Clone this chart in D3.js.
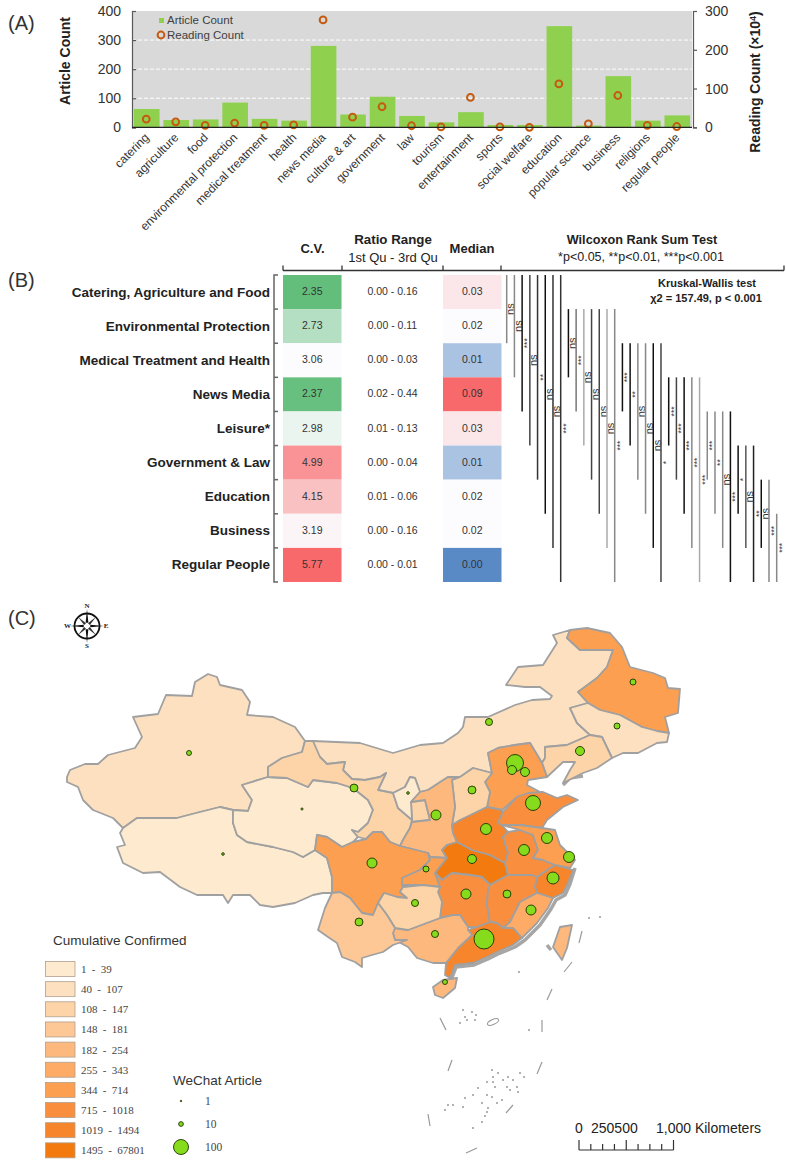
<!DOCTYPE html>
<html><head><meta charset="utf-8">
<script src="https://cdn.jsdelivr.net/npm/d3@7/dist/d3.min.js"></script>
<style>html,body{margin:0;padding:0;background:#fff}svg{display:block}text{font-family:"Liberation Sans",Arial,sans-serif}</style>
</head><body><div id="c"></div>
<script>
// ---------- Panel A data ----------
const categories=["catering","agriculture","food","environmental protection","medical treatment","health","news media","culture & art","government","law","tourism","entertainment","sports","social welfare","education","popular science","business","religions","regular people"];
const articleCount=[63,25,27,85,29,23,280,44,105,39,17,52,8,8,348,6,176,23,41];
const readingCount=[21,14,5,11,5,6,277,26,53,4,1,77,1,0,112,9,82,5,2];
const leftTicks=[0,100,200,300,400];
const rightTicks=[0,100,200,300];
// ---------- Panel B data ----------
const groups=["Catering, Agriculture and Food","Environmental Protection","Medical Treatment and Health","News Media","Leisure*","Government & Law","Education","Business","Regular People"];
const cv=[2.35,2.73,3.06,2.37,2.98,4.99,4.15,3.19,5.77];
const ratioRange=["0.00 - 0.16","0.00 - 0.11","0.00 - 0.03","0.02 - 0.44","0.01 - 0.13","0.00 - 0.04","0.01 - 0.06","0.00 - 0.16","0.00 - 0.01"];
const median=[0.03,0.02,0.01,0.09,0.03,0.01,0.02,0.02,0.00];
const wilcoxon=[
 ["ns","ns","***","ns","**","ns","ns","***"],
 ["ns","***","ns","ns","ns","ns","***"],
 ["***","**","ns","ns","ns","*"],
 ["***","***","***","***","***"],
 ["***","**","ns","***"],
 ["*","ns","**"],
 ["ns","***"],
 ["***"]];
const pairShade=["#888","#888","#111","#444","#333","#111","#333","#333","#111","#777","#aaa","#444","#444","#aaa","#888","#111","#111","#888","#888","#111","#444","#111","#444","#111","#888","#aaa","#888","#888","#888","#111","#111","#555","#222","#111","#888","#888"];
// ---------- Panel C data (map units) ----------
const legendBreaks=["1 - 39","40 - 107","108 - 147","148 - 181","182 - 254","255 - 343","344 - 714","715 - 1018","1019 - 1494","1495 - 67801"];
const legendColors=["#fdeacf","#fde0bf","#fdd4a8","#fdc796","#fdb97d","#fdab67","#fc9f50","#f98f3e","#f6852b","#f27a0e"];
const xinjiang=[[67,777],[70,770],[85,764],[98,764],[108,755],[135,748],[142,737],[133,717],[158,714],[166,695],[192,696],[195,682],[208,674],[217,677],[220,685],[242,690],[250,702],[247,715],[273,717],[295,727],[305,741],[302,752],[282,758],[268,767],[268,777],[242,785],[252,800],[248,811],[233,810],[220,807],[200,812],[177,818],[137,818],[123,828],[113,818],[93,810],[83,800],[78,787],[67,782]];
const tibet=[[123,828],[137,818],[177,818],[200,812],[220,807],[233,810],[233,823],[237,835],[247,842],[273,847],[293,852],[303,857],[315,850],[327,858],[332,877],[332,893],[323,893],[313,895],[295,903],[273,907],[260,905],[250,895],[233,895],[228,903],[223,895],[197,895],[180,887],[160,872],[143,873],[123,863],[117,847],[125,845],[120,833]];
const qinghai=[[242,785],[268,777],[287,778],[308,787],[313,780],[337,783],[353,788],[368,800],[373,810],[368,823],[358,832],[352,830],[358,837],[353,842],[342,847],[327,837],[317,835],[315,850],[303,857],[293,852],[273,847],[247,842],[237,835],[233,823],[233,810],[248,811],[252,800]];
const gansu=[[305,741],[313,741],[320,757],[327,764],[345,762],[343,770],[352,779],[365,780],[380,777],[386,773],[378,790],[393,793],[398,808],[412,820],[410,828],[403,840],[400,846],[390,842],[382,832],[373,832],[366,839],[358,837],[352,830],[358,832],[368,823],[373,810],[368,800],[353,788],[337,783],[313,780],[308,787],[287,778],[268,777],[268,767],[282,758],[302,752]];
const gansuEast=[[411,802],[425,800],[430,820],[412,822]];
const innerMongolia=[[305,741],[313,741],[360,743],[393,753],[420,745],[443,743],[458,733],[463,727],[465,717],[475,717],[488,717],[515,705],[532,700],[550,699],[552,696],[540,687],[525,687],[506,685],[518,667],[543,665],[557,643],[553,635],[570,630],[567,638],[580,650],[613,650],[607,667],[597,678],[578,692],[588,703],[570,708],[577,723],[590,735],[567,745],[545,747],[545,758],[542,763],[530,743],[515,745],[498,748],[488,753],[492,773],[473,768],[460,777],[448,777],[428,790],[420,792],[415,778],[410,777],[405,787],[393,793],[378,790],[386,773],[380,777],[365,780],[352,779],[343,770],[345,762],[327,764],[320,757]];
const heilongjiang=[[567,638],[570,630],[587,628],[610,633],[622,647],[630,667],[653,673],[665,678],[668,688],[680,689],[678,713],[665,717],[669,733],[657,731],[642,727],[620,715],[600,710],[588,703],[578,692],[597,678],[607,667],[613,650],[580,650]];
const jilin=[[570,708],[588,703],[600,710],[620,715],[642,727],[657,731],[669,733],[667,742],[657,743],[638,753],[623,753],[612,758],[602,737],[590,735],[577,723]];
const liaoning=[[545,747],[567,745],[590,735],[602,737],[612,758],[597,768],[583,773],[563,783],[570,770],[575,762],[563,762],[547,777],[542,763],[545,758]];
const hebei=[[488,753],[498,748],[515,745],[530,743],[542,763],[547,777],[528,780],[527,785],[540,792],[517,797],[502,810],[487,807],[490,792],[485,782],[492,773]];
const shanxi=[[473,768],[492,773],[485,782],[490,792],[487,807],[452,825],[455,807],[452,780],[460,777]];
const ningxia=[[393,793],[405,787],[410,777],[415,778],[420,792],[411,802],[412,820],[398,808]];
const shaanxi=[[420,792],[428,790],[448,777],[457,778],[452,780],[455,807],[452,825],[453,833],[457,842],[447,845],[442,850],[447,858],[430,857],[428,853],[400,846],[403,840],[410,828],[412,822],[430,820],[425,800],[411,802]];
const sichuan=[[317,835],[327,837],[342,847],[353,842],[366,839],[373,832],[382,832],[390,842],[400,846],[428,853],[430,860],[420,870],[402,878],[402,885],[403,887],[400,892],[407,898],[397,897],[384,893],[378,903],[373,915],[362,913],[350,898],[340,892],[332,893],[332,877],[327,858],[315,850]];
const chongqing=[[428,853],[430,857],[447,858],[435,873],[440,887],[423,885],[402,885],[402,878],[420,870],[430,860]];
const hubei=[[447,845],[457,842],[472,850],[490,855],[505,863],[508,875],[490,885],[482,877],[470,875],[452,873],[442,880],[435,873],[447,858],[442,850]];
const hunan=[[442,880],[452,873],[470,875],[482,877],[490,885],[488,890],[487,905],[490,922],[477,927],[468,927],[460,915],[453,915],[440,918],[442,902],[438,892],[440,887],[435,873]];
const jiangxi=[[488,890],[490,885],[508,875],[532,875],[537,877],[535,887],[537,893],[520,902],[510,922],[503,928],[497,923],[490,922],[487,905]];
const zhejiang=[[535,887],[537,877],[547,870],[555,865],[573,870],[568,883],[563,893],[553,898],[537,893]];
const fujian=[[537,893],[553,898],[548,908],[537,923],[522,938],[513,928],[503,928],[510,922],[520,902]];
const guangdong=[[468,930],[477,927],[490,922],[497,923],[503,928],[513,928],[522,938],[513,945],[497,952],[487,957],[473,963],[455,965],[450,978],[445,975],[446,963],[458,948],[472,935]];
const guangxi=[[460,915],[468,927],[468,930],[472,935],[458,948],[446,963],[433,963],[417,958],[408,947],[395,940],[393,933],[395,928],[408,930],[440,918],[453,915]];
const guizhou=[[403,887],[423,885],[440,887],[438,892],[442,902],[440,918],[408,930],[395,928],[387,915],[378,903],[384,893],[397,897],[407,898],[400,892]];
const yunnan=[[332,893],[325,908],[318,930],[328,937],[337,943],[342,957],[355,962],[362,967],[362,958],[372,955],[383,952],[393,945],[407,940],[395,940],[393,933],[395,928],[387,915],[378,903],[373,915],[362,913],[350,898],[340,892]];
const henan=[[452,825],[460,820],[487,807],[502,810],[503,812],[498,823],[502,825],[508,832],[503,837],[508,853],[505,863],[490,855],[472,850],[457,842],[453,833]];
const shandong=[[503,812],[517,797],[528,793],[543,792],[557,798],[567,795],[578,800],[563,807],[547,820],[542,828],[520,825],[502,825],[498,823]];
const anhui=[[508,832],[520,830],[533,835],[538,850],[533,858],[543,860],[555,865],[547,870],[537,877],[532,875],[508,875],[505,863],[508,853],[503,837]];
const jiangsu=[[520,825],[542,828],[555,830],[560,845],[568,853],[575,860],[570,868],[555,865],[543,860],[533,858],[538,850],[533,835],[520,830],[502,825]];
const taiwan=[[560,927],[572,925],[567,948],[562,960],[553,947]];
const hainan=[[433,987],[443,980],[457,978],[455,988],[443,998],[435,995]];
const provinceShapes=[xinjiang,tibet,qinghai,innerMongolia,gansu,gansuEast,heilongjiang,jilin,liaoning,hebei,shanxi,ningxia,shaanxi,sichuan,chongqing,hubei,hunan,jiangxi,zhejiang,fujian,guangdong,guangxi,guizhou,yunnan,henan,shandong,anhui,jiangsu,taiwan,hainan];
const provinceClass=[1,0,0,1,2,2,6,1,2,6,2,0,4,6,6,9,7,7,8,5,8,4,2,3,8,7,7,6,4,4];
const coastlines=[[[575,868],[570,884],[565,895],[556,900],[551,909],[540,925],[525,940],[515,947],[498,954],[488,959],[474,965],[456,967],[451,980]],[[563,785],[570,778],[583,776]],[[547,945],[551,950]]];
const seaDashes=[[[579,943],[582,931]],[[564,972],[572,962]],[[547,1000],[552,989]],[[542,1032],[542,1020]],[[537,1074],[542,1062]],[[506,1113],[513,1105]],[[430,1126],[428,1114]],[[440,1018],[446,1030]],[[448,1071],[452,1060]],[[466,1153],[477,1148]]];
const islands=[[463,1010],[472,1012],[476,1015],[465,1017],[467,1020],[475,1020],[460,1023],[492,1070],[498,1073],[493,1077],[493,1082],[487,1082],[495,1087],[508,1077],[513,1080],[520,1073],[524,1077],[503,1080],[507,1087],[517,1087],[510,1090],[518,1092],[478,1088],[473,1095],[465,1098],[487,1095],[492,1097],[482,1103],[497,1103],[502,1100],[488,1108],[487,1112],[485,1116],[482,1122],[473,1128],[463,1107],[453,1105],[448,1105],[445,1110],[519,972],[529,1030],[589,918],[600,917]];
const cityLocations=[[633,682],[617,726],[580,751],[489,722],[515,763],[525,772],[512,770],[472,790],[533,803],[436,815],[486,829],[547,838],[524,850],[569,857],[472,859],[426,869],[553,878],[466,894],[507,894],[531,910],[484,939],[435,934],[415,903],[359,922],[445,982],[372,863],[354,788],[189,753],[302,809],[223,854],[408,793]];
const cityArticles=[16,16,36,22,128,36,36,28,100,44,54,54,54,54,36,16,64,44,28,44,178,22,22,28,11,44,28,11,2,3,3];
const articleLegend=[1,10,100];
const scaleBarKm=[0,125,250,375,500,625,750,875,1000];

// ---------- drawing ----------
const W=786,H=1165;
const svg=d3.select("#c").append("svg").attr("width",W).attr("height",H).attr("viewBox",[0,0,W,H]);
const label=(t,x,y,o={})=>svg.append("text").attr("x",x).attr("y",y).text(t)
  .attr("font-size",o.s||13).attr("font-weight",o.b?"bold":null).attr("text-anchor",o.a||"start")
  .attr("fill",o.c||"#222").attr("dominant-baseline",o.m?"central":null).style("font-family",o.f||null);

label("(A)",8,30,{s:20,c:"#333"});label("(B)",8,287,{s:20,c:"#333"});label("(C)",8,625,{s:20,c:"#333"});

// Panel A
const ax={l:132,r:692,t:11,b:127.3};
const xA=d3.scaleBand().domain(categories).range([ax.l,ax.r]).paddingInner(0.13).paddingOuter(0.065);
const yL=d3.scaleLinear().domain([0,400]).range([ax.b,ax.t]);
const yR=d3.scaleLinear().domain([0,300]).range([ax.b,ax.t]);
const gA=svg.append("g");
gA.append("rect").attr("x",ax.l).attr("y",ax.t).attr("width",ax.r-ax.l).attr("height",ax.b-ax.t).attr("fill","#d9d9d9");
gA.selectAll("line.g").data([100,200,300]).join("line").attr("x1",ax.l).attr("x2",ax.r).attr("y1",yL).attr("y2",yL).attr("stroke","#fff").attr("stroke-width",1).attr("stroke-dasharray","4 2");
gA.selectAll("rect.b").data(categories).join("rect").attr("class","b").attr("x",d=>xA(d)).attr("width",xA.bandwidth())
  .attr("y",(d,i)=>yL(articleCount[i])).attr("height",(d,i)=>yL(0)-yL(articleCount[i])).attr("fill","#8fd14f");
const axL=svg.append("g").attr("transform",`translate(${ax.l},0)`).call(d3.axisLeft(yL).tickValues(leftTicks).tickSize(-4).tickPadding(11));
const axR=svg.append("g").attr("transform",`translate(${ax.r+1},0)`).call(d3.axisRight(yR).tickValues(rightTicks).tickSize(4).tickPadding(8));
[axL,axR].forEach(a=>{a.selectAll("text").attr("font-size",14).attr("fill","#333");a.selectAll("line,path").attr("stroke","#595959").attr("stroke-width",1.2);});
svg.append("line").attr("x1",ax.l).attr("x2",ax.r).attr("y1",ax.b).attr("y2",ax.b).attr("stroke","#222").attr("stroke-width",1.2);
gA.selectAll("circle.r").data(categories).join("circle").attr("cx",d=>xA(d)+xA.bandwidth()/2-0.5)
  .attr("cy",(d,i)=>yR(readingCount[i])).attr("r",3.4).attr("fill","none").attr("stroke","#c55a11").attr("stroke-width",2);
svg.selectAll("text.cat").data(categories).join("text").attr("class","cat").text(d=>d).attr("font-size",12).attr("fill","#333").attr("text-anchor","end")
  .attr("transform",d=>`translate(${xA(d)+xA.bandwidth()/2+3},${ax.b+11}) rotate(-45)`);
svg.append("rect").attr("x",159).attr("y",18).attr("width",5).attr("height",5).attr("fill","#8fd14f");
label("Article Count",167,24,{s:11.5,c:"#404040"});
svg.append("circle").attr("cx",161).attr("cy",35).attr("r",3.4).attr("fill","none").attr("stroke","#c55a11").attr("stroke-width",2);
label("Reading Count",167,39,{s:11.5,c:"#404040"});
svg.append("text").attr("transform","translate(70,61) rotate(-90)").attr("text-anchor","middle").attr("font-size",14).attr("font-weight","bold").attr("fill","#222").text("Article Count");
const rt=svg.append("text").attr("transform","translate(760,82) rotate(-90)").attr("text-anchor","middle").attr("font-size",14).attr("font-weight","bold").attr("fill","#222").text("Reading Count (×10");
rt.append("tspan").attr("font-size",9).attr("dy",-4).text("4");rt.append("tspan").attr("dy",4).text(")");

// Panel B
const yB=d3.scaleBand().domain(groups).range([275,582]);
const boundary=i=>275+i*yB.bandwidth();
const cvColor=d3.scaleLinear().domain([2.35,3.06,5.77]).range(["#63be7b","#fcfcff","#f8696b"]);
const medColor=d3.scaleLinear().domain([0,0.02,0.09]).range(["#5a8ac6","#fcfcff","#f8696b"]);
const cellRow=(vals,x,w,colorFn,fmt)=>{
  const g=svg.append("g");
  if(colorFn) g.selectAll("rect").data(groups).join("rect").attr("x",x).attr("width",w).attr("y",d=>yB(d)).attr("height",yB.bandwidth()).attr("fill",(d,i)=>colorFn(vals[i]));
  g.selectAll("text").data(groups).join("text").attr("x",x+w/2).attr("y",d=>yB(d)+yB.bandwidth()/2-1).attr("text-anchor","middle").attr("dominant-baseline","central").attr("font-size",10.5).attr("fill","#333").text((d,i)=>fmt(vals[i]));
};
cellRow(cv,283,58.5,cvColor,d3.format(".2f"));
cellRow(ratioRange,342,101,null,d=>d);
cellRow(median,443,58.5,medColor,d3.format(".2f"));
svg.selectAll("text.grp").data(groups).join("text").attr("class","grp").attr("x",270).attr("y",d=>yB(d)+yB.bandwidth()/2).attr("text-anchor","end").attr("dominant-baseline","central").attr("font-size",13.5).attr("font-weight","bold").attr("fill","#222").text(d=>d);
const gAx=svg.append("g").attr("stroke","#666").attr("stroke-width",1.5).attr("fill","none");
gAx.append("path").attr("d",`M278,275H274V582H278`);
gAx.selectAll("line").data(d3.range(1,9)).join("line").attr("x1",274).attr("x2",278).attr("y1",boundary).attr("y2",boundary);
const gH=svg.append("g").attr("stroke","#333").attr("stroke-width",1.3);
gH.append("line").attr("x1",283).attr("x2",784).attr("y1",270.5).attr("y2",270.5);
gH.selectAll("line.t").data([283,342,443,501,784]).join("line").attr("x1",d=>d).attr("x2",d=>d).attr("y1",265.5).attr("y2",270.5);
label("C.V.",312.5,248,{s:13,b:1,a:"middle",m:1});label("Ratio Range",393,239,{s:13.3,b:1,a:"middle",m:1});
label("1st Qu - 3rd Qu",393,257,{s:13,a:"middle",m:1});label("Median",472,248,{s:13,b:1,a:"middle",m:1});
label("Wilcoxon Rank Sum Test",642,240,{s:12.7,b:1,a:"middle",m:1});label("*p<0.05, **p<0.01, ***p<0.001",641,257,{s:12.5,a:"middle",m:1});
label("Kruskal-Wallis test",707,283,{s:11,b:1,a:"middle",m:1});label("χ2 = 157.49, p < 0.001",706,298,{s:11,b:1,a:"middle",m:1});
const pairs=[];wilcoxon.forEach((row,i)=>row.forEach((lab,k)=>pairs.push({i,j:i+k+1,lab})));
const xW=d3.scalePoint().domain(d3.range(pairs.length)).range([506.7,776.7]);
const gW=svg.append("g");
pairs.forEach((p,n)=>{
  const x=xW(n),y1=boundary(p.i),y2=boundary(p.j+1);
  gW.append("line").attr("x1",x).attr("x2",x).attr("y1",y1).attr("y2",y2).attr("stroke",pairShade[n]).attr("stroke-width",1.5);
  const ns=p.lab==="ns";
  gW.append("text").attr("transform",`translate(${x+(ns?4.5:5)},${(y1+y2)/2}) rotate(-90)`).attr("text-anchor","middle").attr("dominant-baseline","central")
    .attr("font-size",ns?11:8.5).attr("fill","#333").style("text-rendering","geometricPrecision").text(p.lab);
});

// Panel C map
const proj=d3.geoIdentity();const geo=d3.geoPath(proj);
const gM=svg.append("g");
const asLine=c=>({type:"LineString",coordinates:c});
const asPoly=c=>({type:"Polygon",coordinates:[[...c,c[0]].slice().reverse()]});
gM.selectAll("path.coast").data(coastlines).join("path").attr("d",d=>geo(asLine(d))).attr("fill","none").attr("stroke","#a6a6a6").attr("stroke-width",3.5).attr("stroke-linejoin","round");
gM.selectAll("path.prov").data(provinceShapes).join("path").attr("class","prov").attr("d",d=>geo(asPoly(d)))
  .attr("fill",(d,i)=>legendColors[provinceClass[i]]).attr("stroke","#a0a0a0").attr("stroke-width",1.8).attr("stroke-linejoin","round");
gM.selectAll("path.dash").data(seaDashes).join("path").attr("class","dash").attr("d",d=>geo(asLine(d))).attr("fill","none").attr("stroke","#9a9a9a").attr("stroke-width",1.2);
gM.selectAll("circle.isl").data(islands).join("circle").attr("class","isl").attr("cx",d=>proj(d)[0]).attr("cy",d=>proj(d)[1]).attr("r",1).attr("fill","#999");
gM.append("ellipse").attr("cx",493).attr("cy",1022).attr("rx",6).attr("ry",2.5).attr("transform","rotate(-25 493 1022)").attr("fill","none").attr("stroke","#999").attr("stroke-width",1);
const rSize=d3.scaleSqrt().domain([0,100]).range([0,7.5]);
gM.selectAll("circle.city").data(cityLocations).join("circle").attr("class","city").attr("cx",d=>proj(d)[0]).attr("cy",d=>proj(d)[1])
  .attr("r",(d,i)=>rSize(cityArticles[i])).attr("fill","#86dc1c").attr("stroke","#1c3200").attr("stroke-width",0.9);

// compass
const gC=svg.append("g").attr("transform","translate(87,626)");
gC.append("circle").attr("r",12.5).attr("fill","none").attr("stroke","#111").attr("stroke-width",1.8);
const star=d3.lineRadial().angle(d=>d[0]).radius(d=>d[1]).curve(d3.curveLinearClosed);
d3.range(4).forEach(k=>{const a=k*Math.PI/2;gC.append("path").attr("d",star([[a,17],[a+0.4,3.5],[a-0.4,3.5]])).attr("fill","#111");
  const b=a+Math.PI/4;gC.append("path").attr("d",star([[b,13],[b+0.45,3],[b-0.45,3]])).attr("fill","#333");});
[["N",0,-20],["S",0,20],["W",-19.5,0],["E",19,0]].forEach(d=>gC.append("text").attr("x",d[1]).attr("y",d[2]).attr("text-anchor","middle").attr("dominant-baseline","central").attr("font-size",7).attr("font-weight","bold").style("font-family","Liberation Serif").attr("fill","#222").text(d[0]));

// legends
label("Cumulative Confirmed",53,945,{s:13.5,c:"#333"});
const yLeg=d3.scaleBand().domain(legendBreaks).range([961.5,1163]);
svg.selectAll("rect.leg").data(legendBreaks).join("rect").attr("class","leg").attr("x",45.5).attr("width",29.5).attr("y",d=>yLeg(d)).attr("height",15)
  .attr("fill",(d,i)=>legendColors[i]).attr("stroke","#b0a090").attr("stroke-width",.8);
svg.selectAll("text.leg").data(legendBreaks).join("text").attr("class","leg").attr("x",81).attr("y",d=>yLeg(d)+7.5).attr("dominant-baseline","central").attr("font-size",11).attr("fill","#444")
  .style("font-family","Liberation Serif").style("word-spacing","2.5px").text(d=>d);
label("WeChat Article",173,1085,{s:13.5,c:"#333"});
const legY=d3.scalePoint().domain(articleLegend).range([1101,1147]);
svg.selectAll("circle.al").data(articleLegend).join("circle").attr("class","al").attr("cx",181).attr("cy",d=>legY(d)).attr("r",d=>rSize(d)).attr("fill","#86dc1c").attr("stroke","#1c3200").attr("stroke-width",.9);
svg.selectAll("text.al").data(articleLegend).join("text").attr("class","al").attr("x",205).attr("y",d=>legY(d)).attr("dominant-baseline","central").attr("font-size",11.5).attr("fill","#444").style("font-family","Liberation Serif").text(d=>d);

// scale bar
const xKm=d3.scaleLinear().domain([0,1000]).range([579,673.5]);
const gS=svg.append("g").attr("stroke","#333").attr("stroke-width",1.2);
gS.append("line").attr("x1",xKm(0)).attr("x2",xKm(1000)).attr("y1",1150).attr("y2",1150);
gS.selectAll("line.t").data(scaleBarKm).join("line").attr("x1",xKm).attr("x2",xKm).attr("y1",1150).attr("y2",d=>d%500===0?1140:1144);
label("0",575,1133,{s:14,c:"#222"});label("250500",591,1133,{s:14,c:"#222"});label("1,000 Kilometers",656,1133,{s:14,c:"#222"});
</script></body></html>
